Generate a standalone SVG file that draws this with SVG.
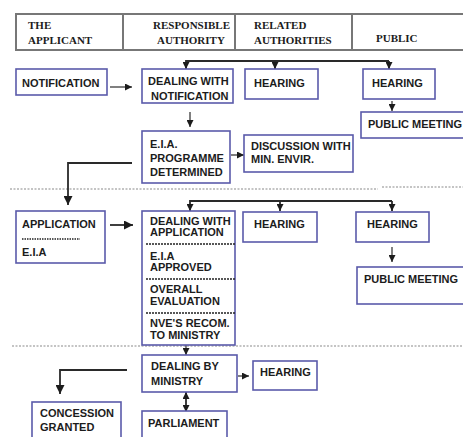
<svg xmlns="http://www.w3.org/2000/svg" width="463" height="437" viewBox="0 0 463 437">
<style>
.b{fill:#fff;stroke:#5a5aaa;stroke-width:1.6}
.t{font-family:"Liberation Sans",Arial,sans-serif;font-weight:bold;font-size:11px;fill:#1c1c1c}
.h{font-family:"Liberation Serif","Times New Roman",serif;font-weight:bold;font-size:11px;fill:#1c1c1c}
.c{fill:none;stroke:#2a2a2a;stroke-width:1.8}
.ct{fill:none;stroke:#2a2a2a;stroke-width:1.2}
.sep{stroke:#8a8a8a;stroke-width:1.2;stroke-dasharray:2 1.5}
.dv{stroke:#222;stroke-width:1.6;stroke-dasharray:2 1}
</style>
<defs>
<marker id="ah" viewBox="0 0 10 10" refX="10" refY="5" markerWidth="7" markerHeight="7" markerUnits="userSpaceOnUse" orient="auto-start-reverse">
<path d="M0,0 L10,5 L0,10 z" fill="#1c1c1c"/>
</marker>
<marker id="ahb" viewBox="0 0 10 10" refX="10" refY="5" markerWidth="9" markerHeight="9" markerUnits="userSpaceOnUse" orient="auto-start-reverse">
<path d="M0,0 L10,5 L0,10 z" fill="#1c1c1c"/>
</marker>
</defs>
<rect width="463" height="437" fill="#fff"/>

<g id="header">
<path d="M463,14 H16 V50 H463" fill="none" stroke="#777" stroke-width="2"/>
<line x1="123" y1="14" x2="123" y2="50" stroke="#777" stroke-width="2"/>
<line x1="235" y1="14" x2="235" y2="50" stroke="#777" stroke-width="2"/>
<line x1="352" y1="14" x2="352" y2="50" stroke="#777" stroke-width="2"/>
<text class="h" x="28" y="29">THE</text>
<text class="h" x="28" y="44">APPLICANT</text>
<text class="h" x="153" y="29">RESPONSIBLE</text>
<text class="h" x="157" y="44">AUTHORITY</text>
<text class="h" x="254" y="29">RELATED</text>
<text class="h" x="254" y="44">AUTHORITIES</text>
<text class="h" x="376" y="42">PUBLIC</text>
</g>

<g id="separators">
<line class="sep" x1="10" y1="189" x2="378" y2="189"/>
<line class="sep" x1="382" y1="187" x2="463" y2="187"/>
<line class="sep" x1="12" y1="346" x2="463" y2="346"/>
</g>

<g id="connectors">
<line class="ct" x1="110" y1="87" x2="132" y2="87" marker-end="url(#ah)"/>
<path class="c" d="M389,61 H186 V69" marker-end="url(#ah)"/>
<line class="c" x1="275" y1="61" x2="275" y2="69" marker-end="url(#ah)"/>
<line class="c" x1="389" y1="61" x2="389" y2="69" marker-end="url(#ah)"/>
<line class="ct" x1="190" y1="112" x2="190" y2="127" marker-end="url(#ah)"/>
<line class="ct" x1="392" y1="101" x2="392" y2="111" marker-end="url(#ah)"/>
<line class="ct" x1="231" y1="155" x2="244" y2="155" marker-end="url(#ah)"/>
<path class="c" d="M132,163 H68 V205" marker-end="url(#ahb)"/>

<line class="c" x1="110" y1="225" x2="133" y2="225" marker-end="url(#ahb)"/>
<path class="c" d="M392,201 H190 V211" marker-end="url(#ah)"/>
<line class="c" x1="280" y1="201" x2="280" y2="211" marker-end="url(#ah)"/>
<line class="c" x1="392" y1="201" x2="392" y2="211" marker-end="url(#ah)"/>
<line class="ct" x1="392" y1="247" x2="392" y2="262" marker-end="url(#ah)"/>

<line class="ct" x1="186" y1="345" x2="186" y2="355" marker-end="url(#ah)"/>
<line class="ct" x1="238" y1="376" x2="249" y2="376" marker-end="url(#ah)"/>
<path class="c" d="M127,370 H60 V394" marker-end="url(#ahb)"/>
<line class="c" x1="186" y1="392" x2="186" y2="412" marker-start="url(#ah)" marker-end="url(#ah)"/>
</g>

<g id="notification">
<rect class="b" x="16" y="69" width="91" height="26"/>
<text class="t" x="22" y="87">NOTIFICATION</text>
</g>
<g id="dealing-notification">
<rect class="b" x="142" y="69" width="91" height="34"/>
<text class="t" x="148" y="85">DEALING WITH</text>
<text class="t" x="151" y="100">NOTIFICATION</text>
</g>
<g id="hearing-related-1">
<rect class="b" x="245" y="69" width="73" height="30"/>
<text class="t" x="254" y="87">HEARING</text>
</g>
<g id="hearing-public-1">
<rect class="b" x="363" y="69" width="72" height="30"/>
<text class="t" x="372" y="87">HEARING</text>
</g>
<g id="public-meeting-1">
<rect class="b" x="361" y="112" width="110" height="26"/>
<text class="t" x="368" y="128">PUBLIC MEETING</text>
</g>
<g id="eia-programme">
<rect class="b" x="142" y="131" width="88" height="52"/>
<text class="t" x="150" y="148">E.I.A.</text>
<text class="t" x="150" y="162">PROGRAMME</text>
<text class="t" x="150" y="176">DETERMINED</text>
</g>
<g id="discussion">
<rect class="b" x="244" y="135" width="109" height="37"/>
<text class="t" x="251" y="150">DISCUSSION WITH</text>
<text class="t" x="251" y="163">MIN. ENVIR.</text>
</g>

<g id="application">
<rect class="b" x="16" y="211" width="89" height="52"/>
<text class="t" x="22" y="228">APPLICATION</text>
<line x1="22" y1="239" x2="80" y2="239" stroke="#222" stroke-width="1.4" stroke-dasharray="1.5 1"/>
<text class="t" x="22" y="256">E.I.A</text>
</g>
<g id="dealing-application">
<rect class="b" x="142" y="211" width="93" height="134"/>
<line class="dv" x1="146" y1="244" x2="235" y2="244"/>
<line class="dv" x1="146" y1="279" x2="235" y2="279"/>
<line class="dv" x1="146" y1="313" x2="235" y2="313"/>
<text class="t" x="150" y="225">DEALING WITH</text>
<text class="t" x="150" y="236">APPLICATION</text>
<text class="t" x="150" y="260">E.I.A</text>
<text class="t" x="150" y="271">APPROVED</text>
<text class="t" x="150" y="293">OVERALL</text>
<text class="t" x="150" y="305">EVALUATION</text>
<text class="t" x="150" y="327">NVE'S RECOM.</text>
<text class="t" x="150" y="339">TO MINISTRY</text>
</g>
<g id="hearing-related-2">
<rect class="b" x="243" y="212" width="74" height="30"/>
<text class="t" x="254" y="228">HEARING</text>
</g>
<g id="hearing-public-2">
<rect class="b" x="356" y="212" width="73" height="30"/>
<text class="t" x="367" y="228">HEARING</text>
</g>
<g id="public-meeting-2">
<rect class="b" x="357" y="267" width="112" height="37"/>
<text class="t" x="364" y="283">PUBLIC MEETING</text>
</g>

<g id="dealing-ministry">
<rect class="b" x="142" y="355" width="95" height="37"/>
<text class="t" x="151" y="370">DEALING BY</text>
<text class="t" x="151" y="385">MINISTRY</text>
</g>
<g id="hearing-3">
<rect class="b" x="253" y="361" width="64" height="29"/>
<text class="t" x="260" y="376">HEARING</text>
</g>
<g id="concession">
<rect class="b" x="32" y="402" width="89" height="45"/>
<text class="t" x="40" y="417">CONCESSION</text>
<text class="t" x="40" y="431">GRANTED</text>
</g>
<g id="parliament">
<rect class="b" x="142" y="411" width="85" height="36"/>
<text class="t" x="148" y="427">PARLIAMENT</text>
</g>
</svg>
